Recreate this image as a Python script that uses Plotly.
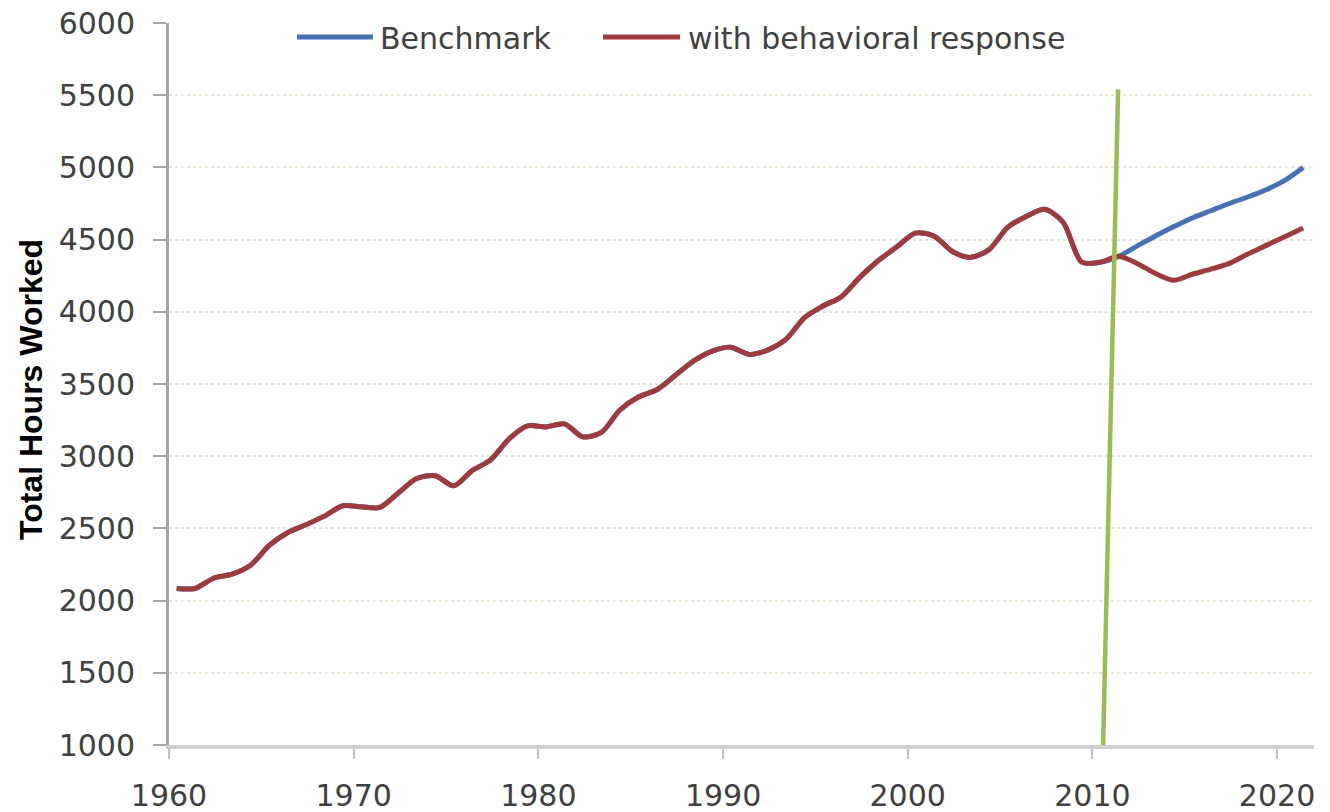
import plotly.graph_objects as go

# ---------------- data ----------------
years_hist = list(range(1960, 2012))
hours_hist = [2084, 2084, 2155, 2183, 2245, 2380, 2470, 2525, 2585, 2657,
              2650, 2645, 2745, 2845, 2865, 2795, 2900, 2975, 3120, 3210,
              3203, 3224, 3134, 3165, 3320, 3410, 3460, 3560, 3660, 3728,
              3755, 3705, 3735, 3811, 3960, 4040, 4105, 4240, 4355, 4450,
              4545, 4525, 4418, 4377, 4432, 4585, 4660, 4710, 4620, 4345,
              4343, 4384]

years_proj = list(range(2012, 2022))
benchmark_proj = [4455, 4525, 4590, 4650, 4700, 4750, 4795, 4845, 4910, 5000]
behavioral_proj = [4335, 4265, 4218, 4260, 4295, 4335, 4400, 4460, 4520, 4580]

policy_dates = ["2010-08-01", "2011-05-25"]
policy_hours = [1000, 5540]

series_names = ["Benchmark", "with behavioral response"]
series_colors = ["#4672B4", "#9E3B3F"]
policy_color = "#9BBB59"

y_ticks = [1000, 1500, 2000, 2500, 3000, 3500, 4000, 4500, 5000, 5500, 6000]

# annual observations stamped at mid-year
def to_dates(yrs):
    return [f"{y}-06-01" for y in yrs]

x_all = to_dates(years_hist + years_proj)
bench = hours_hist + benchmark_proj
behav = hours_hist + behavioral_proj

fig = go.Figure()
fig.add_trace(go.Scatter(x=x_all, y=bench, mode="lines", name=series_names[0],
                         line=dict(color=series_colors[0], width=5,
                                   shape="spline", smoothing=0.8),
                         showlegend=False))
fig.add_trace(go.Scatter(x=x_all, y=behav, mode="lines", name=series_names[1],
                         line=dict(color=series_colors[1], width=5,
                                   shape="spline", smoothing=0.8),
                         showlegend=False))
fig.add_trace(go.Scatter(x=policy_dates, y=policy_hours, mode="lines",
                         name="policy", line=dict(color=policy_color, width=4.5),
                         showlegend=False))

# ---------------- layout ----------------
OFF = 8  # page body margin
L, R, T, B = 169 - OFF, 24, 23 - OFF, 75
W, H = 1330, 812
pw = W - L - R
ph = H - T - B

def px_x(p):
    return (p - OFF - L) / pw

def px_y(p):
    return (H - B - (p - OFF)) / ph

tick_font = dict(family="DejaVu Sans", size=30, color="#404040")

fig.update_layout(
    width=W, height=H,
    margin=dict(l=L, r=R, t=T, b=B, autoexpand=False),
    plot_bgcolor="white", paper_bgcolor="white",
    showlegend=False,
    xaxis=dict(
        type="date",
        range=["1960-01-01", "2022-01-01"],
        tick0="1960-01-01", dtick="M120", tickformat="%Y",
        showgrid=False, zeroline=False,
        showline=True, linecolor="#D0D0D0", linewidth=4,
        ticks="outside", ticklen=10, tickwidth=2, tickcolor="#BFBFBF",
        tickfont=tick_font, ticklabelstandoff=11,
        ticklabeloverflow="allow",
    ),
    yaxis=dict(
        range=[1000, 6000],
        tickvals=y_ticks,
        showgrid=True, gridcolor="rgba(215,208,180,0.55)", gridwidth=2,
        griddash="dot",
        zeroline=False,
        showline=True, linecolor="#A6A6A6", linewidth=3,
        ticks="outside", ticklen=13, tickwidth=2, tickcolor="#A6A6A6",
        tickfont=tick_font, ticklabelstandoff=12,
        ticklabeloverflow="allow",
    ),
)

# y-axis title
fig.add_annotation(text="<b>Total Hours Worked</b>", xref="paper", yref="paper",
                   x=px_x(31), y=px_y(390), xanchor="center", yanchor="middle",
                   textangle=-90, showarrow=False,
                   font=dict(family="Liberation Sans", size=32, color="#000000"))

# legend (drawn in paper coordinates)
legend_items = [(297, 373, 378), (603, 680, 686)]
for (x0, x1, xt), name, col in zip(legend_items, series_names, series_colors):
    fig.add_shape(type="line", xref="paper", yref="paper",
                  x0=px_x(x0), x1=px_x(x1), y0=px_y(37), y1=px_y(37),
                  line=dict(color=col, width=5))
    fig.add_annotation(text=name, xref="paper", yref="paper",
                       x=px_x(xt), y=px_y(38), xanchor="left", yanchor="middle",
                       showarrow=False,
                       font=dict(family="DejaVu Sans", size=30, color="#404040"))

fig.write_html("out.html")
